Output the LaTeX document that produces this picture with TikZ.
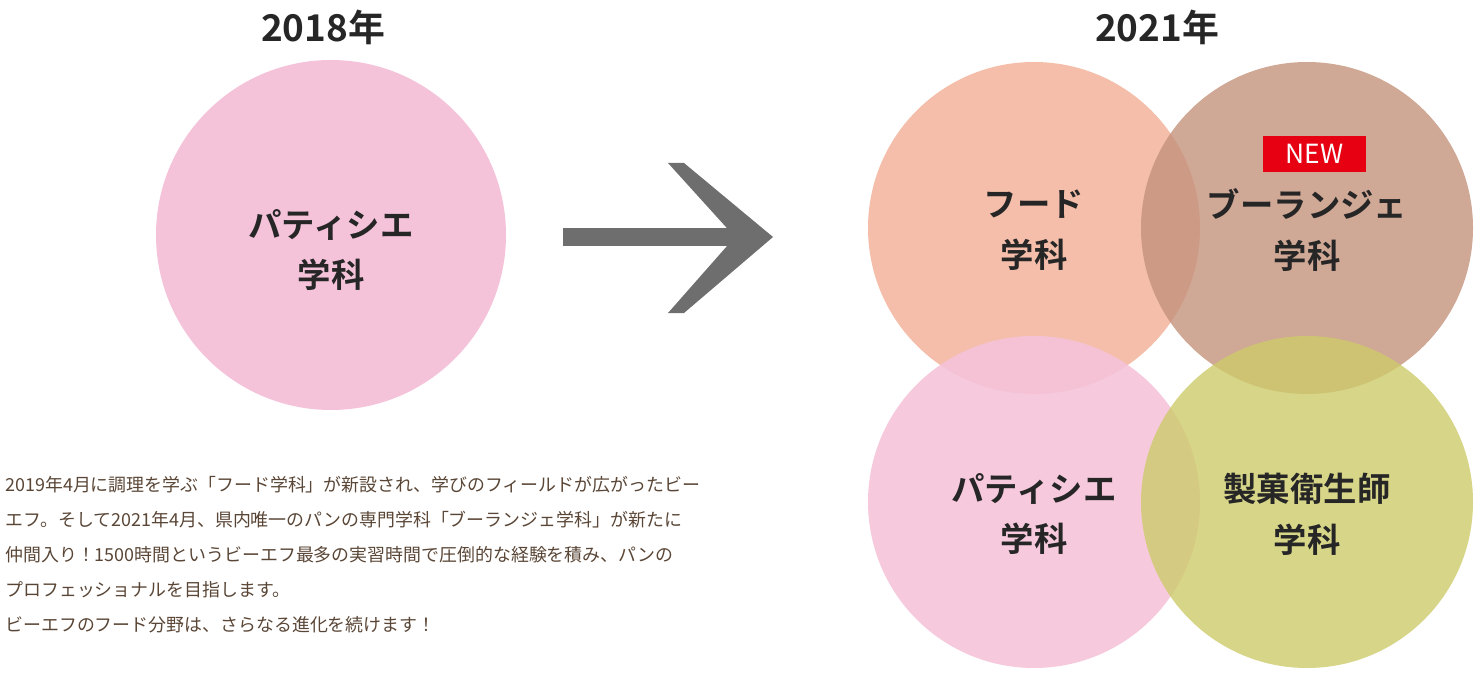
\documentclass[tikz,border=0pt]{standalone}
\usepackage{fontspec}
\setmainfont{Noto Sans CJK JP}
\newfontfamily\jpbold{Noto Sans CJK JP Bold}
\usepackage{tikz}
\definecolor{pinkc}{HTML}{F5C3D9}
\definecolor{salmonc}{HTML}{F2AE95}
\definecolor{brownc}{HTML}{C4927C}
\definecolor{olivec}{HTML}{CDCB6A}
\definecolor{arrowc}{HTML}{6E6E6E}
\definecolor{textc}{HTML}{5A4636}
\definecolor{newred}{HTML}{E60012}
\tikzset{
  title/.style={font=\jpbold\fontsize{21pt}{24pt}\selectfont, text=black!85},
  circlabel/.style={font=\jpbold\fontsize{19pt}{29pt}\selectfont, align=center, text=black!85},
  para/.style={font=\fontsize{10.2pt}{19.9pt}\selectfont, text=textc, align=left, anchor=north west, inner sep=0pt}
}
\begin{document}
\begin{tikzpicture}[x=0.02cm,y=-0.02cm]
    \useasboundingbox (0,0) rectangle (1476,699);

    % Titles
    \node[title] (t18) at (323,27) {2018年};
    \node[title] (t21) at (1157,27) {2021年};

    % 2018 circle
    \fill[pinkc] (331,235) circle (175);
    \node[circlabel] (pat18) at (331,250) {パティシエ\\学科};

    % Arrow
    \fill[arrowc] (563,228) rectangle (735,246);
    \fill[arrowc] (668,163) -- (684,163) -- (773,237) -- (684,313) -- (668,313) -- (735,237) -- cycle;

    % 2021 circles
    \fill[salmonc, opacity=0.8] (1034,228) circle (166);
    \fill[brownc, opacity=0.8] (1307,228) circle (166);
    \fill[pinkc, opacity=0.9] (1034,502) circle (166);
    \fill[olivec, opacity=0.8] (1307,502) circle (166);

    \node[circlabel] (food) at (1034,230) {フード\\学科};
    \node[circlabel] (boul) at (1307,230) {ブーランジェ\\学科};
    \node[circlabel] (pat21) at (1034,514) {パティシエ\\学科};
    \node[circlabel] (seika) at (1307,514) {製菓衛生師\\学科};

    % NEW badge
    \fill[newred] (1263,136) rectangle (1366,172);
    \node[font=\fontsize{15pt}{18pt}\selectfont, text=white] (new) at (1314.5,154) {NEW};

    % Description
    \node[para] (desc) at (5,476) {2019年4月に調理を学ぶ「フード学科」が新設され、学びのフィールドが広がったビー\\
    エフ。そして2021年4月、県内唯一のパンの専門学科「ブーランジェ学科」が新たに\\
    仲間入り！1500時間というビーエフ最多の実習時間で圧倒的な経験を積み、パンの\\
    プロフェッショナルを目指します。\\
    ビーエフのフード分野は、さらなる進化を続けます！};
\end{tikzpicture}
\end{document}
